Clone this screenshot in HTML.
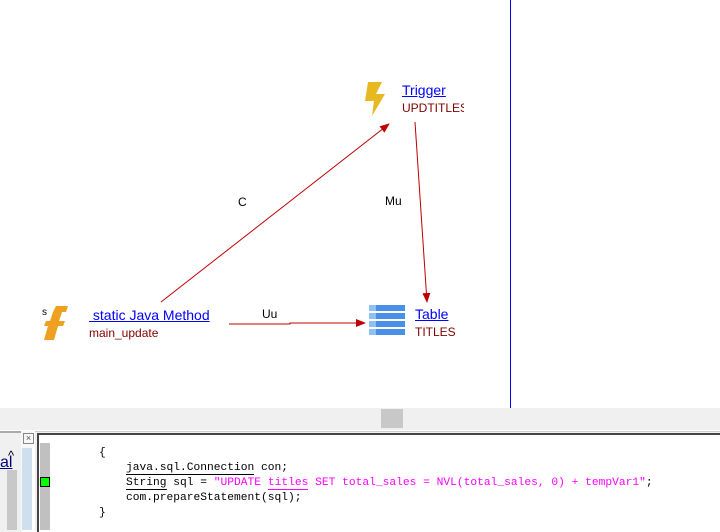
<html><head><style>
body{margin:0;width:720px;height:530px;position:relative;background:#fff;font-family:"Liberation Sans",sans-serif;overflow:hidden}
.a{position:absolute}
.lnk{color:#00f;text-decoration:underline;font-size:14px}
.sub{color:#800000;font-size:12px}
.code{font-family:"Liberation Mono",monospace;font-size:11.25px;white-space:pre;color:#000}
u.k{text-decoration:none;border-bottom:1px solid #000}
u.m{text-decoration:none;border-bottom:1px solid #f0f}
</style></head><body>
<div class="a" style="left:510px;top:0;width:1px;height:408px;background:#00f"></div>
<svg class="a" style="left:0;top:0" width="720" height="408">
<defs><marker id="ar" markerWidth="10" markerHeight="8" refX="9" refY="4" orient="auto" markerUnits="userSpaceOnUse"><path d="M0,0 L10,4 L0,8z" fill="#c00000"/></marker></defs>
<g stroke="#c00000" stroke-width="1" fill="none">
<line x1="161" y1="302" x2="389" y2="124" marker-end="url(#ar)"/>
<line x1="415" y1="122" x2="427" y2="302" marker-end="url(#ar)"/>
<polyline points="229,324 290,324 290,323 365,323" marker-end="url(#ar)"/>
</g>
<text x="238" y="206" font-size="12" font-family="Liberation Sans">C</text>
<text x="385" y="205" font-size="12" font-family="Liberation Sans">Mu</text>
<text x="262" y="318" font-size="12" font-family="Liberation Sans">Uu</text>
<path d="M368,82 L382,82 L376,94 L385,94 L372,116 L374,101 L365,101z" fill="#e8b820"/>
<path d="M56,306 L68,306 L66,312 L62,312 L59,321 L65,321 L63,326 L58,326 L54,340 L44,340 L48,326 L44,326 L46,321 L50,321 L53,312 Z" fill="#f0a020"/>
<text x="42" y="315" font-size="10" font-family="Liberation Sans">s</text>
<g fill="#4a90e8"><rect x="369" y="305" width="36" height="6"/><rect x="369" y="313" width="36" height="6"/><rect x="369" y="321" width="36" height="6"/><rect x="369" y="329" width="36" height="6"/></g>
<g fill="#8fc0f5"><rect x="369" y="305" width="7" height="6"/><rect x="369" y="313" width="7" height="6"/><rect x="369" y="321" width="7" height="6"/><rect x="369" y="329" width="7" height="6"/></g>
</svg>
<div class="a lnk" style="left:402px;top:82px">Trigger</div>
<div class="a sub" style="left:402px;top:101px;width:62px;overflow:hidden;white-space:nowrap">UPDTITLES</div>
<div class="a lnk" style="left:89px;top:307px">&nbsp;static Java Method</div>
<div class="a sub" style="left:89px;top:326px">main_update</div>
<div class="a lnk" style="left:415px;top:306px">Table</div>
<div class="a sub" style="left:415px;top:325px">TITLES</div>
<div class="a" style="left:0;top:408px;width:720px;height:22px;background:#f0f0f0"></div>
<div class="a" style="left:381px;top:409px;width:22px;height:19px;background:#c8c8c8"></div>
<div class="a" style="left:0;top:431px;width:22px;height:99px;background:#f0f0f0;border-top:2px solid #aaa"></div>
<div class="a" style="left:0;top:454px;font-size:16px;color:#00007f;text-decoration:underline">al</div>
<div class="a" style="left:8px;top:448px;font-size:13px">^</div>
<div class="a" style="left:7px;top:470px;width:10px;height:60px;background:#c8c8c8"></div>
<div class="a" style="left:21px;top:431px;width:11px;height:99px;background:#f8f8f8"></div>
<div class="a" style="left:22px;top:448px;width:10px;height:82px;background:#d0dff0"></div>
<div class="a" style="left:23px;top:433px;width:9px;height:9px;border:1px solid #888;font-size:9px;line-height:9px;text-align:center;color:#555">×</div>
<div class="a" style="left:35px;top:431px;width:685px;height:99px;background:#f0f0f0;border-top:1px solid #ccc"></div>
<div class="a" style="left:37px;top:433px;width:683px;height:97px;border-top:2px solid #444;border-left:2px solid #444;background:#fff"></div>
<div class="a" style="left:40px;top:443px;width:10px;height:87px;background:#c0c0c0"></div>
<div class="a" style="left:40px;top:477px;width:10px;height:10px;background:#00ff00;border:1px solid #000;box-sizing:border-box"></div>
<div class="a code" style="left:72px;top:446px;line-height:15px">    {
        <u class="k">java.sql.Connection</u> con;
        <u class="k">String</u> sql = <span style="color:#f0f">"UPDATE <u class="m">titles</u> SET total_sales = NVL(total_sales, 0) + tempVar1"</span>;
        com.prepareStatement(sql);
    }</div>
</body></html>
